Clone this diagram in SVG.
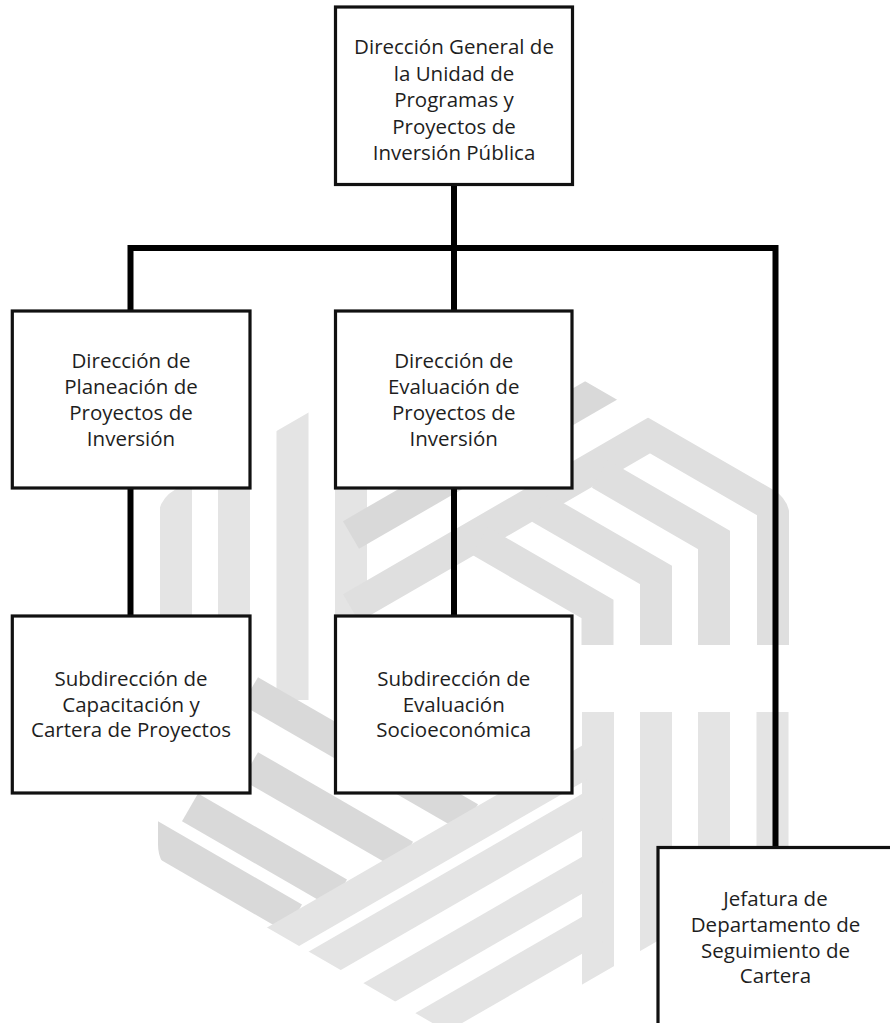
<svg xmlns="http://www.w3.org/2000/svg" width="890" height="1023" viewBox="0 0 890 1023">
<defs>
<style>
.box{fill:#fff;stroke:#111;stroke-width:3.2}
.lbl{font-family:"Open Sans","Noto Sans","Liberation Sans",sans-serif;font-size:20.5px;fill:#1e1e1e;text-anchor:middle}
.conn{fill:none;stroke:#000;stroke-width:6;stroke-linejoin:miter;stroke-linecap:butt}
.st{fill:none;stroke-width:32;stroke-linecap:butt;stroke-linejoin:miter}
.l{stroke:#e4e4e4}
.m{stroke:#dfdfdf}
.d{stroke:#d9d9d9}
</style>
<clipPath id="hex">
<path d="M456.7,327 Q474,317 491.3,327 L772.7,489.5 Q790,499.5 790,519.5 L790,844.5 Q790,864.5 772.7,874.5 L491.3,1037 Q474,1047 456.7,1037 L175.3,874.5 Q158,864.5 158,844.5 L158,519.5 Q158,499.5 175.3,489.5 Z"/>
</clipPath>
</defs>
<rect width="890" height="1023" fill="#fff"/>
<g id="watermark" clip-path="url(#hex)">
<path class="st l" d="M176,470 V790"/>
<path class="st l" d="M234,430 V790"/>
<path class="st l" d="M292.5,390 V700"/>
<path class="st l" d="M351,360 V760"/>
<path class="st d" d="M351,535 L640,368"/>
<path class="st m" d="M351,608 L650,435 L773,506 L773,645"/>
<path class="st m" d="M600,474 L714,540 L714,645"/>
<path class="st m" d="M540,508 L656,575 L656,645"/>
<path class="st m" d="M480,541 L597.5,609 L597.5,645"/>
<path class="st d" d="M150,835.2 L294,918.4"/>
<path class="st d" d="M190,807.3 L339,893.4"/>
<path class="st d" d="M250,766 L405,855.5"/>
<path class="st d" d="M250,691 L470,818"/>
<path class="st l" d="M598,712 V1050"/>
<path class="st l" d="M656,712 V1050"/>
<path class="st l" d="M714,712 V1050"/>
<path class="st l" d="M772.5,712 V1050"/>
<path class="st l" d="M240,961.5 L598,754.9"/>
<path class="st l" d="M280,986.7 L598,803.1"/>
<path class="st l" d="M330,1020.8 L598,866.1"/>
<path class="st l" d="M380,1052 L598,926.1"/>
</g>
<g id="connectors">
<path class="conn" d="M454,184.5 V311"/>
<path class="conn" d="M130.5,311 V248 H775.5 V847.5"/>
<path class="conn" d="M130.5,488 V616"/>
<path class="conn" d="M454,488 V616"/>
</g>
<g id="n-general">
<rect class="box" x="335.5" y="7" width="237" height="177.5"/>
<text class="lbl" x="454" y="54">Dirección General de</text>
<text class="lbl" x="454" y="80.5">la Unidad de</text>
<text class="lbl" x="454" y="107">Programas y</text>
<text class="lbl" x="454" y="133.5">Proyectos de</text>
<text class="lbl" x="454" y="160">Inversión Pública</text>
</g>
<g id="n-planeacion">
<rect class="box" x="12.3" y="311" width="237.7" height="177"/>
<text class="lbl" x="131" y="368">Dirección de</text>
<text class="lbl" x="131" y="394">Planeación de</text>
<text class="lbl" x="131" y="420">Proyectos de</text>
<text class="lbl" x="131" y="446">Inversión</text>
</g>
<g id="n-evaluacion">
<rect class="box" x="335.5" y="311" width="236.5" height="177"/>
<text class="lbl" x="453.7" y="368">Dirección de</text>
<text class="lbl" x="453.7" y="394">Evaluación de</text>
<text class="lbl" x="453.7" y="420">Proyectos de</text>
<text class="lbl" x="453.7" y="446">Inversión</text>
</g>
<g id="n-capacitacion">
<rect class="box" x="12.3" y="616" width="237.7" height="177"/>
<text class="lbl" x="131" y="686">Subdirección de</text>
<text class="lbl" x="131" y="711.5">Capacitación y</text>
<text class="lbl" x="131" y="737">Cartera de Proyectos</text>
</g>
<g id="n-socioeconomica">
<rect class="box" x="335.5" y="616" width="236.5" height="177"/>
<text class="lbl" x="453.7" y="686">Subdirección de</text>
<text class="lbl" x="453.7" y="711.5">Evaluación</text>
<text class="lbl" x="453.7" y="737">Socioeconómica</text>
</g>
<g id="n-jefatura">
<rect class="box" x="658" y="847.5" width="240" height="180"/>
<text class="lbl" x="775.5" y="906">Jefatura de</text>
<text class="lbl" x="775.5" y="932">Departamento de</text>
<text class="lbl" x="775.5" y="957.5">Seguimiento de</text>
<text class="lbl" x="775.5" y="983">Cartera</text>
</g>
</svg>
